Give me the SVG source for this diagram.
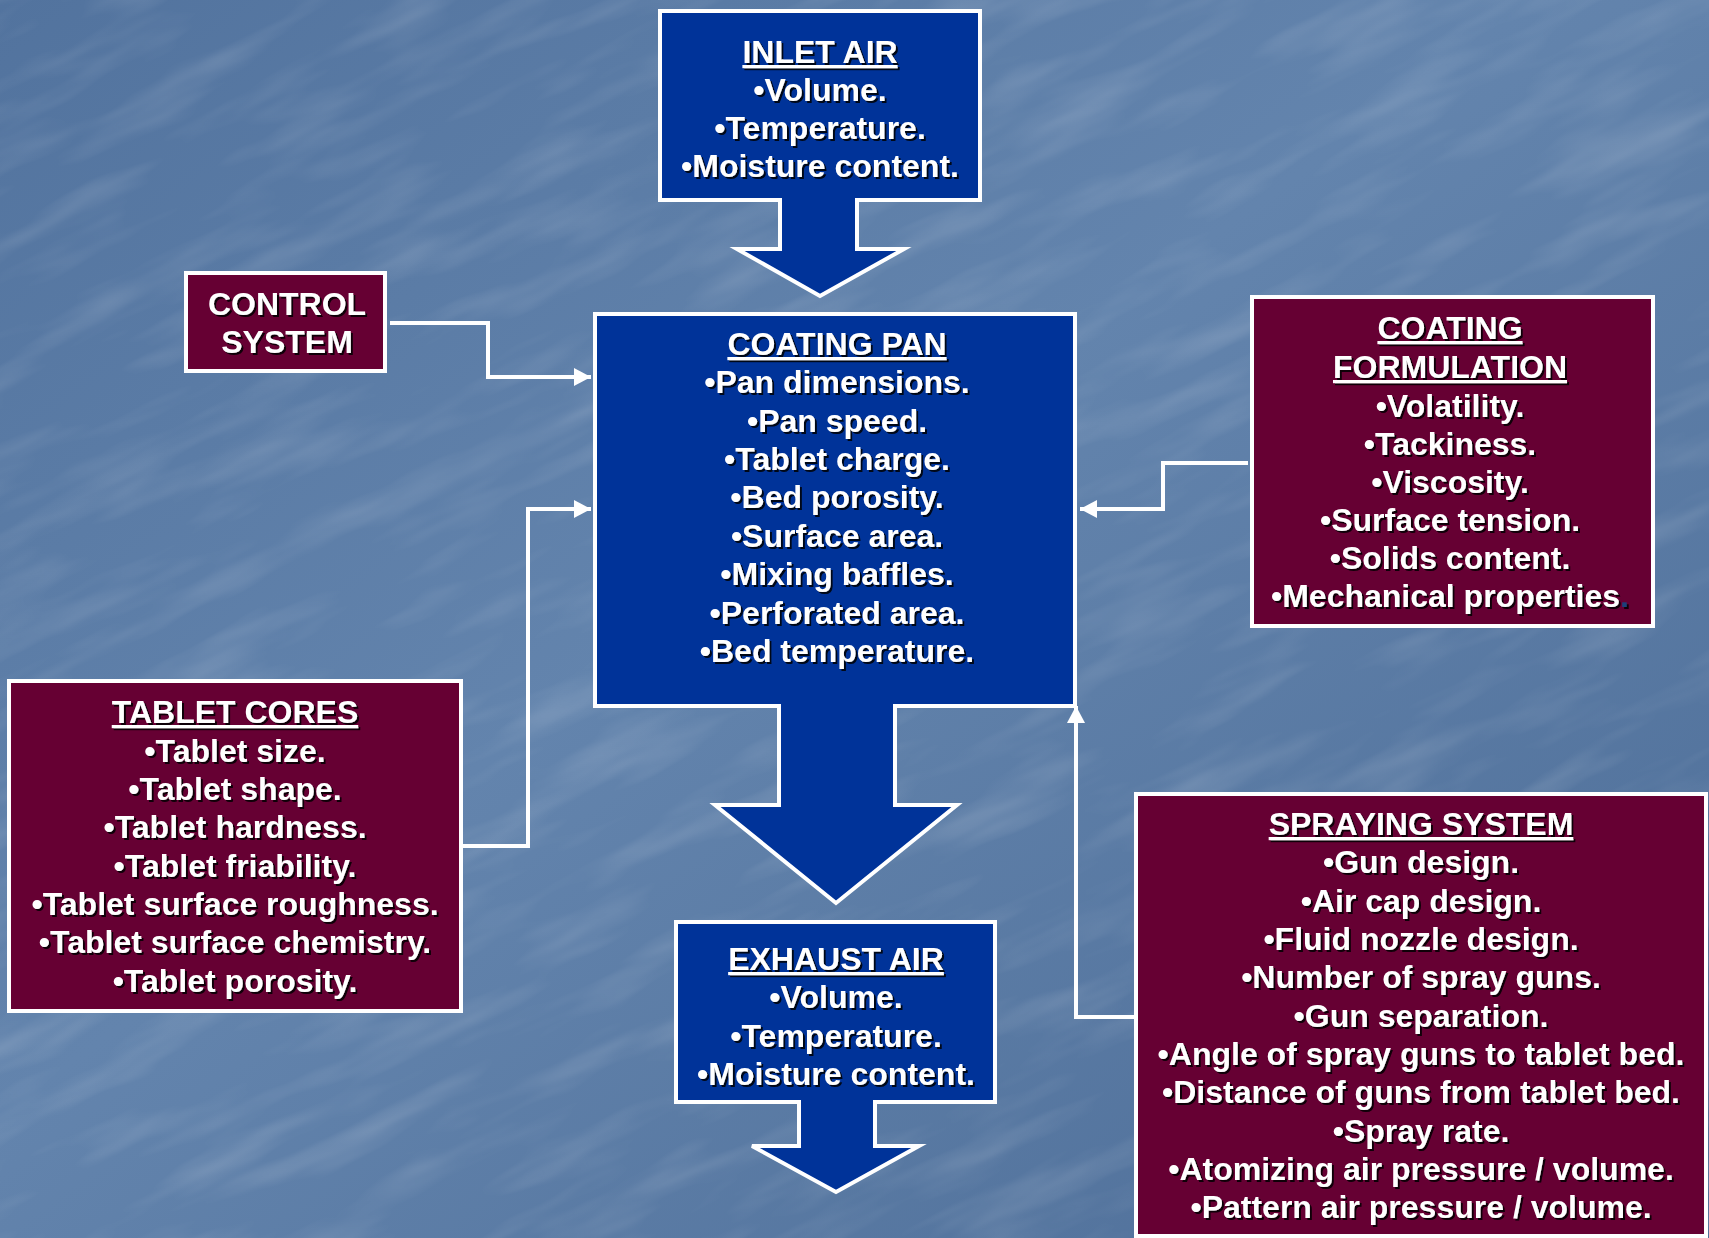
<svg xmlns="http://www.w3.org/2000/svg" width="1709" height="1238" viewBox="0 0 1709 1238">
<defs>
<style>
.t{font-family:"Liberation Sans",Arial,sans-serif;font-weight:bold;font-size:32px;fill:#fff;text-anchor:middle}
.u{text-decoration:underline}
.blue{fill:#003399;stroke:#fff;stroke-width:4;stroke-linejoin:miter}
.mar{fill:#660033;stroke:#fff;stroke-width:4}
.con{fill:none;stroke:#fff;stroke-width:4;stroke-linejoin:miter}
</style>
<linearGradient id="bg" x1="0" y1="0" x2="1" y2="1">
<stop offset="0" stop-color="#52739e"/>
<stop offset="0.45" stop-color="#6384ad"/>
<stop offset="1" stop-color="#4d6d97"/>
</linearGradient>
<filter id="noise" x="0" y="0" width="100%" height="100%">
<feTurbulence type="fractalNoise" baseFrequency="0.006 0.03" numOctaves="3" seed="4" result="n"/>
<feColorMatrix type="matrix" values="0 0 0 0 1  0 0 0 0 1  0 0 0 0 1  0 0 0 1.2 -0.55" />
</filter>
<filter id="sh" x="-10%" y="-10%" width="120%" height="130%">
<feDropShadow dx="2" dy="2" stdDeviation="0.4" flood-color="#000" flood-opacity="0.85"/>
</filter>
<marker id="ah" markerUnits="userSpaceOnUse" markerWidth="20" markerHeight="20" viewBox="0 0 20 20" refX="17" refY="10" orient="auto">
<path d="M0,1 L17,10 L0,19 Z" fill="#fff"/>
</marker>
</defs>
<rect width="1709" height="1238" fill="url(#bg)"/>
<g transform="rotate(-25 854 619)">
<rect x="-400" y="-400" width="2500" height="2100" filter="url(#noise)" opacity="0.25"/>
</g>

<g id="connectors">
<polyline class="con" points="390,323 488,323 488,377 591,377" marker-end="url(#ah)"/>
<polyline class="con" points="463,846 528,846 528,509 591,509" marker-end="url(#ah)"/>
<polyline class="con" points="1248,463 1163,463 1163,509 1080,509" marker-end="url(#ah)"/>
<polyline class="con" points="1134,1017 1076,1017 1076,706" marker-end="url(#ah)"/>
</g>

<g id="inlet-air">
<path class="blue" d="M660,11 H980 V200 H857 V249 H904 L820,296 L737,249 H780 V200 H660 Z"/>
<g filter="url(#sh)">
<text class="t u" x="820" y="63">INLET AIR</text>
<text class="t" x="820" y="101">•Volume.</text>
<text class="t" x="820" y="139">•Temperature.</text>
<text class="t" x="820" y="177">•Moisture content.</text>
</g>
</g>

<g id="control-system">
<rect class="mar" x="186" y="273" width="199" height="98"/>
<g filter="url(#sh)">
<text class="t" x="287" y="315">CONTROL</text>
<text class="t" x="287" y="353">SYSTEM</text>
</g>
</g>

<g id="coating-pan">
<path class="blue" d="M595,314 H1075 V706 H895 V805 H957 L836,903 L715,805 H779 V706 H595 Z"/>
<g filter="url(#sh)">
<text class="t u" x="837" y="355">COATING PAN</text>
<text class="t" x="837" y="393">•Pan dimensions.</text>
<text class="t" x="837" y="432">•Pan speed.</text>
<text class="t" x="837" y="470">•Tablet charge.</text>
<text class="t" x="837" y="508">•Bed porosity.</text>
<text class="t" x="837" y="547">•Surface area.</text>
<text class="t" x="837" y="585">•Mixing baffles.</text>
<text class="t" x="837" y="624">•Perforated area.</text>
<text class="t" x="837" y="662">•Bed temperature.</text>
</g>
</g>

<g id="coating-formulation">
<rect class="mar" x="1252" y="297" width="401" height="329"/>
<g filter="url(#sh)">
<text class="t u" x="1450" y="339">COATING</text>
<text class="t u" x="1450" y="378">FORMULATION</text>
<text class="t" x="1450" y="417">•Volatility.</text>
<text class="t" x="1450" y="455">•Tackiness.</text>
<text class="t" x="1450" y="493">•Viscosity.</text>
<text class="t" x="1450" y="531">•Surface tension.</text>
<text class="t" x="1450" y="569">•Solids content.</text>
<text class="t" x="1450" y="607">•Mechanical properties<tspan fill="#1d3f7a">.</tspan></text>
</g>
</g>

<g id="tablet-cores">
<rect class="mar" x="9" y="681" width="452" height="330"/>
<g filter="url(#sh)">
<text class="t u" x="235" y="723">TABLET CORES</text>
<text class="t" x="235" y="762">•Tablet size.</text>
<text class="t" x="235" y="800">•Tablet shape.</text>
<text class="t" x="235" y="838">•Tablet hardness.</text>
<text class="t" x="235" y="877">•Tablet friability.</text>
<text class="t" x="235" y="915">•Tablet surface roughness.</text>
<text class="t" x="235" y="953">•Tablet surface chemistry.</text>
<text class="t" x="235" y="992">•Tablet porosity.</text>
</g>
</g>

<g id="spraying-system">
<rect class="mar" x="1136" y="794" width="570" height="442"/>
<g filter="url(#sh)">
<text class="t u" x="1421" y="835">SPRAYING SYSTEM</text>
<text class="t" x="1421" y="873">•Gun design.</text>
<text class="t" x="1421" y="912">•Air cap design.</text>
<text class="t" x="1421" y="950">•Fluid nozzle design.</text>
<text class="t" x="1421" y="988">•Number of spray guns.</text>
<text class="t" x="1421" y="1027">•Gun separation.</text>
<text class="t" x="1421" y="1065">•Angle of spray guns to tablet bed.</text>
<text class="t" x="1421" y="1103">•Distance of guns from tablet bed.</text>
<text class="t" x="1421" y="1142">•Spray rate.</text>
<text class="t" x="1421" y="1180">•Atomizing air pressure / volume.</text>
<text class="t" x="1421" y="1218">•Pattern air pressure / volume.</text>
</g>
</g>

<g id="exhaust-air">
<path class="blue" d="M676,922 H995 V1102 H875 V1146 H919 L836,1192 L752,1146 H799 V1102 H676 Z"/>
<g filter="url(#sh)">
<text class="t u" x="836" y="970">EXHAUST AIR</text>
<text class="t" x="836" y="1008">•Volume.</text>
<text class="t" x="836" y="1047">•Temperature.</text>
<text class="t" x="836" y="1085">•Moisture content.</text>
</g>
</g>
</svg>
